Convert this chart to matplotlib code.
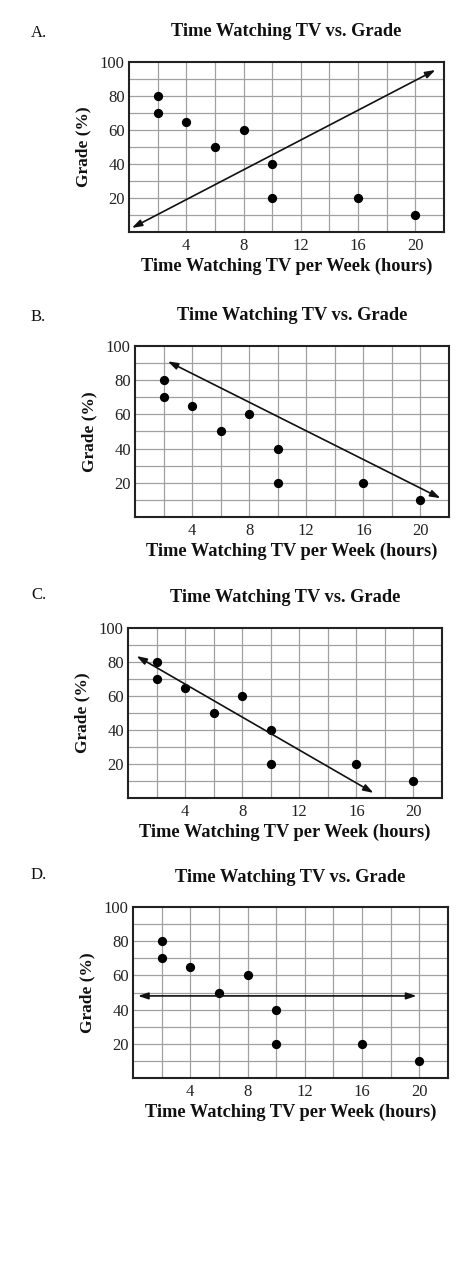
import matplotlib
matplotlib.use("Agg")
import matplotlib.pyplot as plt

plt.rcParams['font.family'] = ['Liberation Serif', 'DejaVu Serif']

# scatter data (same in every panel)
hours = [2, 2, 4, 6, 8, 10, 10, 16, 20]
grades = [80, 70, 65, 50, 60, 40, 20, 20, 10]

x_ticks = [4, 8, 12, 16, 20]
y_ticks = [20, 40, 60, 80, 100]

panel_letters = ["A.", "B.", "C.", "D."]

# trend line end points for each choice (start, end)
line_x_A = [0.2, 21.4]
line_y_A = [2.4, 95.3]
line_x_B = [2.3, 21.4]
line_y_B = [91, 11]
line_x_C = [0.6, 17.2]
line_y_C = [83.5, 3]
line_x_D = [0.35, 19.8]
line_y_D = [48, 48]
lines_x = [line_x_A, line_x_B, line_x_C, line_x_D]
lines_y = [line_y_A, line_y_B, line_y_C, line_y_D]

W, H = 466, 1267
fig = plt.figure(figsize=(W / 100, H / 100), dpi=100)

# axes boxes in pixels: left, right, top, bottom
boxes = [(129, 444, 62, 232), (135, 449, 346, 517),
         (128, 442, 628, 798), (133, 448, 907, 1078)]
title_y = [31, 315, 598, 877]
letter_y = [33, 317, 595, 875]

for i in range(4):
    l, r, t, b = boxes[i]
    ax = fig.add_axes([l / W, 1 - b / H, (r - l) / W, (b - t) / H])
    ax.set_xlim(0, 22)
    ax.set_ylim(0, 100)
    # grid every 2 hours / 10 percent
    for gx in range(2, 22, 2):
        ax.axvline(gx, color='#a0a0a0', lw=0.9, zorder=1)
    for gy in range(10, 100, 10):
        ax.axhline(gy, color='#a0a0a0', lw=0.9, zorder=1)
    ax.scatter(hours, grades, s=32, color='black', zorder=3)
    ax.annotate("", xy=(lines_x[i][1], lines_y[i][1]), xytext=(lines_x[i][0], lines_y[i][0]),
                arrowprops=dict(arrowstyle='<|-|>,head_length=0.6,head_width=0.2',
                                color='#111111', lw=1.2, shrinkA=0, shrinkB=0), zorder=4)
    ax.set_xticks(x_ticks)
    ax.set_yticks(y_ticks)
    ax.tick_params(length=0, labelsize=12, colors='#222222')
    ax.tick_params(axis='x', pad=4)
    ax.tick_params(axis='y', pad=3)
    for s in ax.spines.values():
        s.set_linewidth(1.5)
        s.set_color('#222222')
    ax.set_xlabel("Time Watching TV per Week (hours)", fontsize=13.2,
                  fontweight='bold', labelpad=3, color='#111111')
    ax.set_ylabel("Grade (%)", fontsize=12.5, fontweight='bold', labelpad=6, color='#111111')
    fig.text((l + r) / 2 / W, 1 - title_y[i] / H, "Time Watching TV vs. Grade",
             ha='center', va='center', fontsize=13.2, fontweight='bold', color='#111111')
    fig.text(31 / W, 1 - letter_y[i] / H, panel_letters[i], ha='left', va='center',
             fontsize=12, color='#111111')

fig.savefig("out.png", dpi=100, facecolor='white')
